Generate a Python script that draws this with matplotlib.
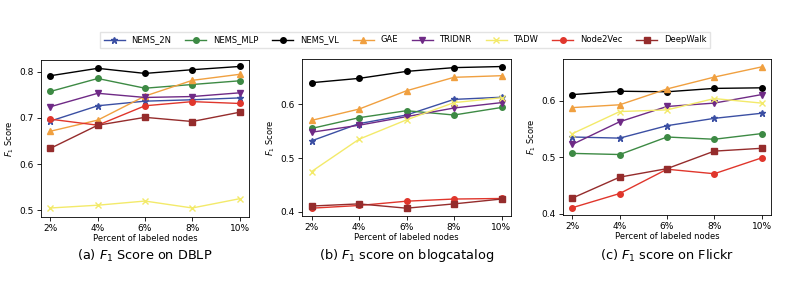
import matplotlib
matplotlib.use("Agg")
import matplotlib.pyplot as plt

x_labels = ["2%", "4%", "6%", "8%", "10%"]
methods = ["NEMS_2N", "NEMS_MLP", "NEMS_VL", "GAE", "TRIDNR", "TADW", "Node2Vec", "DeepWalk"]
colors = ["#3b4fa3", "#3d8a44", "#000000", "#f0a040", "#6f2a86", "#f3ea6a", "#e0362c", "#952c2c"]
markers = ["*", "o", "o", "^", "v", "x", "o", "s"]

# F1 on DBLP
dblp = {
    "NEMS_2N":  [0.693, 0.726, 0.736, 0.739, 0.743],
    "NEMS_MLP": [0.757, 0.785, 0.764, 0.772, 0.780],
    "NEMS_VL":  [0.791, 0.807, 0.796, 0.804, 0.811],
    "GAE":      [0.671, 0.695, 0.747, 0.781, 0.794],
    "TRIDNR":   [0.724, 0.753, 0.744, 0.746, 0.754],
    "TADW":     [0.505, 0.511, 0.520, 0.505, 0.525],
    "Node2Vec": [0.697, 0.684, 0.726, 0.735, 0.731],
    "DeepWalk": [0.634, 0.684, 0.701, 0.692, 0.712],
}
# F1 on blogcatalog
blog = {
    "NEMS_2N":  [0.532, 0.564, 0.580, 0.609, 0.613],
    "NEMS_MLP": [0.555, 0.575, 0.588, 0.580, 0.594],
    "NEMS_VL":  [0.640, 0.648, 0.661, 0.668, 0.670],
    "GAE":      [0.570, 0.591, 0.625, 0.650, 0.653],
    "TRIDNR":   [0.548, 0.561, 0.577, 0.593, 0.603],
    "TADW":     [0.475, 0.535, 0.571, 0.603, 0.612],
    "Node2Vec": [0.407, 0.412, 0.420, 0.424, 0.425],
    "DeepWalk": [0.411, 0.415, 0.407, 0.415, 0.424],
}
# F1 on Flickr
flickr = {
    "NEMS_2N":  [0.536, 0.534, 0.556, 0.569, 0.578],
    "NEMS_MLP": [0.507, 0.505, 0.536, 0.532, 0.542],
    "NEMS_VL":  [0.611, 0.617, 0.616, 0.622, 0.623],
    "GAE":      [0.588, 0.593, 0.621, 0.642, 0.660],
    "TRIDNR":   [0.523, 0.563, 0.590, 0.596, 0.611],
    "TADW":     [0.542, 0.581, 0.584, 0.604, 0.596],
    "Node2Vec": [0.411, 0.436, 0.479, 0.471, 0.499],
    "DeepWalk": [0.428, 0.465, 0.480, 0.511, 0.516],
}

datasets = [dblp, blog, flickr]
captions = ["(a) $F_1$ Score on DBLP", "(b) $F_1$ score on blogcatalog", "(c) $F_1$ score on Flickr"]
ylims = [(0.4855, 0.825), (0.3925, 0.684), (0.398, 0.674)]
yticks = [[0.5, 0.6, 0.7, 0.8], [0.4, 0.5, 0.6], [0.4, 0.5, 0.6]]

W, H = 810, 286
fig = plt.figure(figsize=(W / 100, H / 100), dpi=100)
boxes = [(41, 60, 249, 217), (302, 59, 511, 216), (563, 59, 771, 215)]

xs = range(len(x_labels))
for i, data in enumerate(datasets):
    l, t, r, b = boxes[i]
    ax = fig.add_axes([l / W, 1 - b / H, (r - l) / W, (b - t) / H])
    for m, c, mk in zip(methods, colors, markers):
        ms = 4.5 if mk == "*" else 4
        ax.plot(xs, data[m], color=c, marker=mk, markersize=ms, linewidth=1.0, label=m)
    ax.set_xticks(list(xs))
    ax.set_xticklabels(x_labels)
    ax.set_xlim(-0.2, 4.2)
    ax.set_ylim(*ylims[i])
    ax.set_yticks(yticks[i])
    ax.tick_params(labelsize=6.5, length=3, width=0.6, pad=2)
    for s in ax.spines.values():
        s.set_linewidth(0.6)
    ax.set_xlabel("Percent of labeled nodes", fontsize=6, labelpad=1)
    ax.set_ylabel("$F_1$ Score", fontsize=6, labelpad=3)
    fig.text((l + r) / 2 / W, 1 - 256 / H, captions[i], ha="center", va="center", fontsize=9.3)
    if i == 0:
        handles, labels = ax.get_legend_handles_labels()

fig.legend(handles, labels, loc="center", bbox_to_anchor=(405 / W, 1 - 40 / H), ncol=8,
           fontsize=6, frameon=True, handlelength=2.5, columnspacing=1.7,
           borderpad=0.4, fancybox=False, edgecolor="#dddddd")

fig.savefig("out.png", dpi=100)
